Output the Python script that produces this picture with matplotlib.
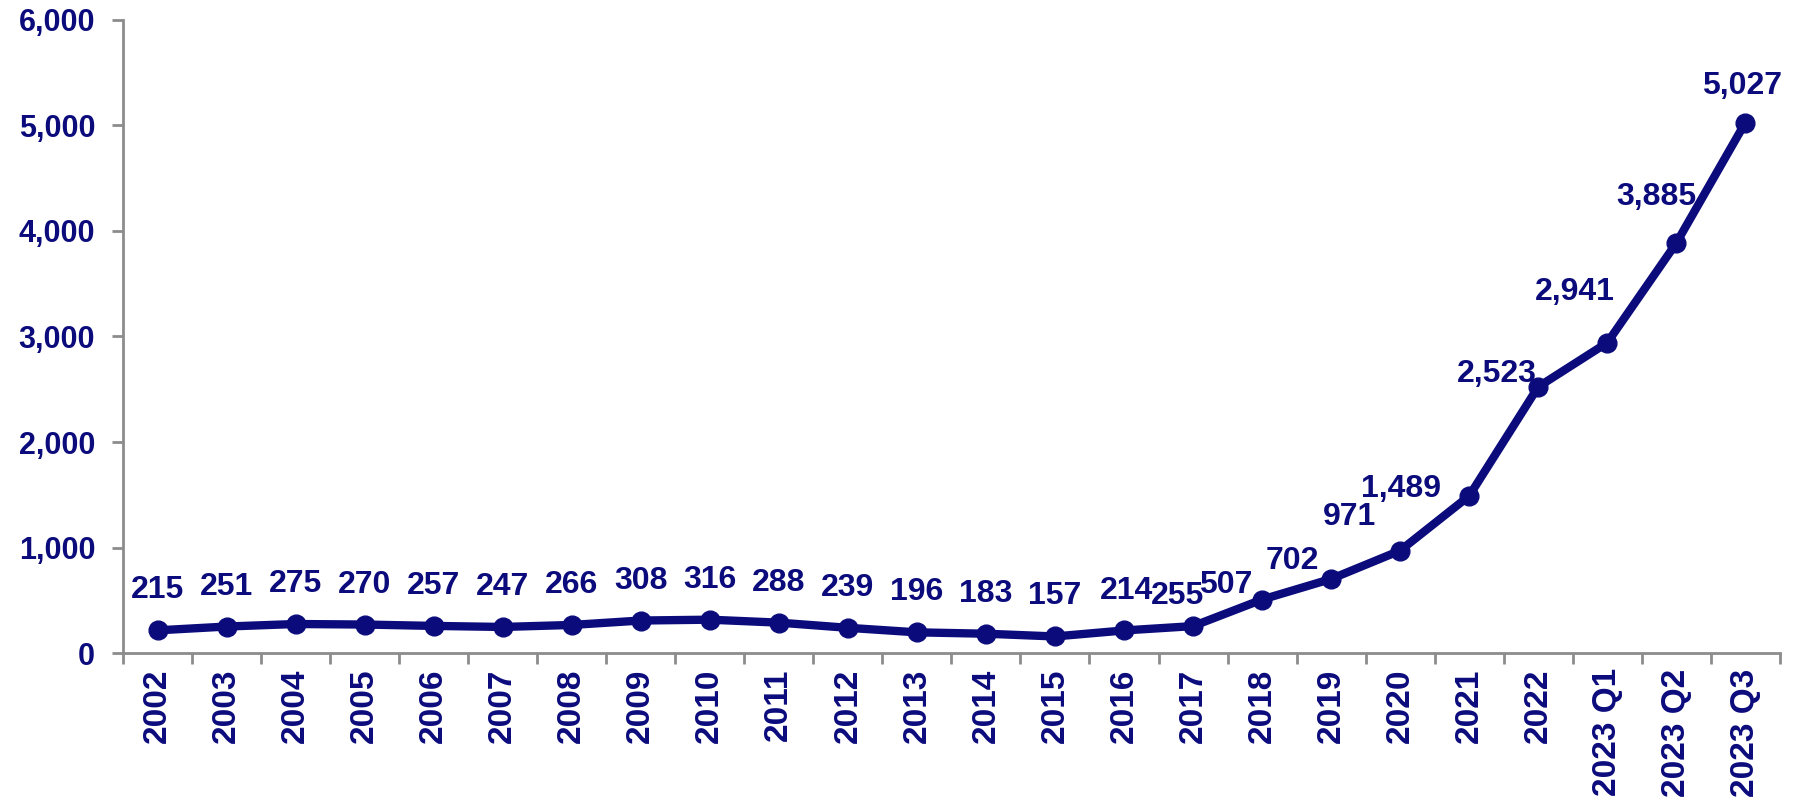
import matplotlib.pyplot as plt
from matplotlib.ticker import FuncFormatter, FixedLocator

NAVY = "#0b0b7c"
GREY = "#8c8c8c"

categories = [
    "2002", "2003", "2004", "2005", "2006", "2007", "2008", "2009",
    "2010", "2011", "2012", "2013", "2014", "2015", "2016", "2017",
    "2018", "2019", "2020", "2021", "2022",
    "2023 Q1", "2023 Q2", "2023 Q3",
]
values = [
    215, 251, 275, 270, 257, 247, 266, 308,
    316, 288, 239, 196, 183, 157, 214, 255,
    507, 702, 971, 1489, 2523,
    2941, 3885, 5027,
]

# label offsets in pixels (dx, dy) where the default doesn't fit
label_offsets = {
    "2016": (2, 39),
    "2017": (-16, 30),
    "2018": (-36, 15),
    "2019": (-39, 18),
    "2020": (-51, 34),
    "2021": (-68, 7),
    "2022": (-41, 13),
    "2023 Q1": (-32, 51),
    "2023 Q2": (-20, 46),
    "2023 Q3": (-3, 37),
}

plt.rcParams["font.family"] = ["Liberation Sans", "DejaVu Sans"]
plt.rcParams["font.weight"] = "bold"

fig = plt.figure(figsize=(17.96, 7.99), dpi=100)
ax = fig.add_axes([0.0685, 0.1827, 0.9225, 0.7923])

x = list(range(len(categories)))
ax.plot(x, values, color=NAVY, lw=6, marker="o", ms=13.5, solid_joinstyle="round")

for xi, cat, v in zip(x, categories, values):
    dx, dy = label_offsets.get(cat, (0, 40))
    ax.annotate(f"{v:,}", (xi, v), xytext=(dx, dy), textcoords="offset pixels",
                ha="center", va="center", fontsize=23, fontweight="bold", color=NAVY)

ax.set_xlim(-0.5, len(categories) - 0.5)
ax.set_ylim(0, 6000)
ax.set_yticks(range(0, 6001, 1000))
ax.yaxis.set_major_formatter(FuncFormatter(lambda v, p: f"{int(v):,}"))

ax.set_xticks(x)
ax.set_xticklabels(categories, rotation=90, va="top", ha="center")
ax.xaxis.set_minor_locator(FixedLocator([i - 0.5 for i in range(len(categories) + 1)]))
ax.tick_params(axis="x", which="major", length=0, pad=11, labelsize=24, labelcolor=NAVY)
ax.tick_params(axis="x", which="minor", length=8, width=2, color=GREY, direction="out")
ax.tick_params(axis="y", length=8, width=2, color=GREY, pad=12, labelsize=22, labelcolor=NAVY)
for lab in ax.get_xticklabels() + ax.get_yticklabels():
    lab.set_fontweight("bold")

for side in ["top", "right"]:
    ax.spines[side].set_visible(False)
for side in ["left", "bottom"]:
    ax.spines[side].set_color(GREY)
    ax.spines[side].set_linewidth(2)

fig.savefig("out.png", dpi=100, facecolor="white")
